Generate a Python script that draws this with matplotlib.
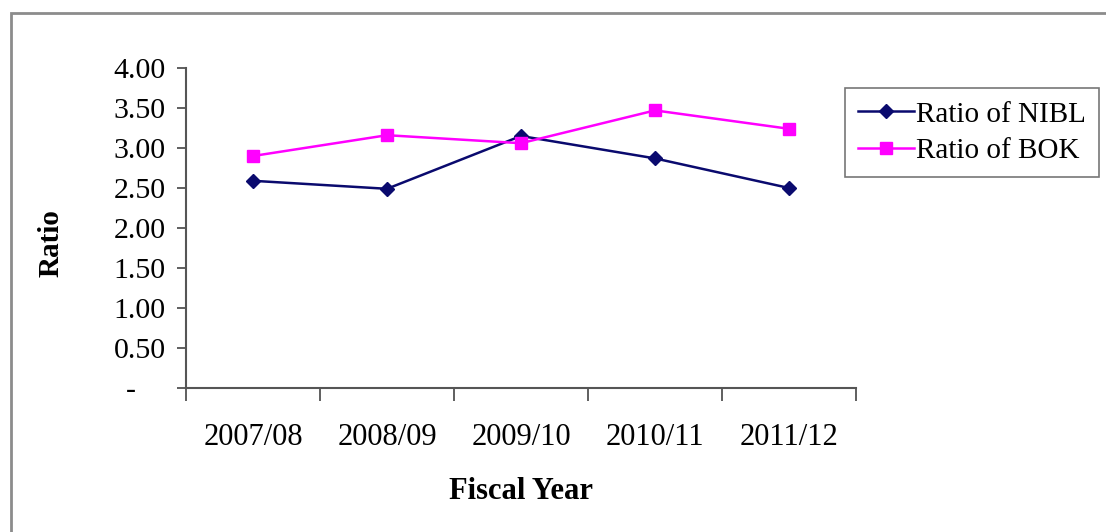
import matplotlib
matplotlib.use("Agg")
import matplotlib.pyplot as plt
from matplotlib.patches import Rectangle
from matplotlib.ticker import FixedLocator

years = ["2007/08", "2008/09", "2009/10", "2010/11", "2011/12"]
nibl = [2.59, 2.49, 3.15, 2.87, 2.50]
bok = [2.90, 3.16, 3.06, 3.47, 3.24]
yticks = [0, 0.5, 1.0, 1.5, 2.0, 2.5, 3.0, 3.5, 4.0]
ytick_labels = ["-    ", "0.50", "1.00", "1.50", "2.00", "2.50", "3.00", "3.50", "4.00"]

plt.rcParams['font.family'] = ['Liberation Serif', 'DejaVu Serif']

W, H = 1106, 532
fig = plt.figure(figsize=(W / 100, H / 100), dpi=100)
fig.patch.set_facecolor("white")

# outer frame
fig.add_artist(Rectangle((11 / W, -0.1), 1.2, 1 - 13 / H + 0.1, transform=fig.transFigure,
                         fill=False, edgecolor="#8c8c8c", linewidth=2.0))

ax = fig.add_axes([186 / W, 1 - 388 / H, (856 - 186) / W, (388 - 68) / H])
x = list(range(len(years)))
l1, = ax.plot(x, nibl, color="#0a0a6e", marker="D", markersize=7, linewidth=1.8,
              label="Ratio of NIBL")
l2, = ax.plot(x, bok, color="#ff00ff", marker="s", markersize=9, linewidth=1.8,
              label="Ratio of BOK")

ax.set_xlim(-0.5, len(years) - 0.5)
ax.set_ylim(0, 4)
ax.set_yticks(yticks)
ax.set_yticklabels(ytick_labels, fontsize=21.5)
ax.set_xticks(x)
ax.set_xticklabels(years, fontsize=22)
ax.tick_params(axis="x", length=0, pad=25)
ax.xaxis.set_minor_locator(FixedLocator([i - 0.5 for i in range(len(years) + 1)]))
ax.tick_params(axis="x", which="minor", length=9, width=1.2, color="#444444")
ax.tick_params(axis="y", length=6.5, width=1.2, color="#444444", pad=8)
for s in ["top", "right"]:
    ax.spines[s].set_visible(False)
for s in ["left", "bottom"]:
    ax.spines[s].set_color("#555555")
    ax.spines[s].set_linewidth(1.5)

ax.set_xlabel("Fiscal Year", fontsize=22, fontweight="bold", labelpad=18)
fig.text(51 / W, 1 - 243 / H, "Ratio", fontsize=21, fontweight="bold",
         rotation=90, ha="center", va="center")

leg = fig.legend(handles=[l1, l2], loc="upper left",
                 bbox_to_anchor=(845 / W, 1 - 88 / H), fontsize=21,
                 frameon=True, fancybox=False, edgecolor="#555555",
                 handlelength=1.9, handletextpad=0.1, borderpad=0.45,
                 labelspacing=0.35, borderaxespad=0)
leg.get_frame().set_linewidth(1.2)

fig.savefig("out.png", dpi=100, facecolor="white")
